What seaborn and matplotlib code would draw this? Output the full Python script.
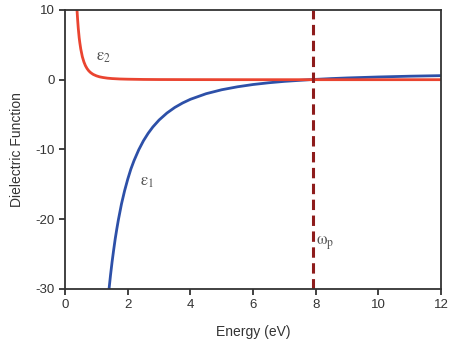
import pandas as pd
import seaborn as sns
import matplotlib.pyplot as plt

# Data
E1 = [1.40, 1.45, 1.5, 1.55, 1.6, 1.65, 1.7, 1.8, 1.9, 2.0, 2.1, 2.2, 2.35,
      2.5, 2.65, 2.8, 3.0, 3.25, 3.5, 3.75, 4.0, 4.5, 5.0, 5.5, 6.0, 6.5,
      7.0, 7.8, 8.5, 9.0, 10.0, 11.0, 12.0]
EPS1 = [-30.1, -28.0, -26.1, -24.4, -22.8, -21.4, -20.1, -17.8, -15.9, -14.25,
        -12.8, -11.6, -10.05, -8.76, -7.69, -6.78, -5.78, -4.78, -3.98, -3.34,
        -2.81, -2.01, -1.44, -1.02, -0.69, -0.44, -0.24, 0.0, 0.16, 0.25,
        0.39, 0.50, 0.58]
E2 = [0.38, 0.40, 0.42, 0.45, 0.47, 0.50, 0.55, 0.60, 0.65, 0.70, 0.75, 0.80,
      0.85, 0.90, 1.0, 1.1, 1.2, 1.35, 1.5, 1.75, 2.0, 2.5, 3.0, 4.0, 6.0,
      8.0, 10.0, 12.0]
EPS2 = [10.0, 8.6, 7.4, 6.0, 5.3, 4.4, 3.3, 2.55, 2.0, 1.6, 1.3, 1.07, 0.9,
        0.75, 0.55, 0.41, 0.32, 0.22, 0.16, 0.10, 0.07, 0.035, 0.02, 0.01,
        0.0, 0.0, 0.0, 0.0]
OMEGA_P = 7.92

d1 = pd.DataFrame({'Energy': E1, 'Value': EPS1})
d2 = pd.DataFrame({'Energy': E2, 'Value': EPS2})

sns.set_style('ticks')
plt.rcParams['font.family'] = ['Liberation Sans', 'DejaVu Sans']
plt.rcParams['mathtext.fontset'] = 'stix'
plt.rcParams['axes.unicode_minus'] = False

fig = plt.figure(figsize=(4.52, 3.42), dpi=100)
ax = fig.add_axes([0.144, 0.155, 0.832, 0.816])

sns.lineplot(x='Energy', y='Value', data=d1, color='#2d50a8', lw=2.0, ax=ax)
sns.lineplot(x='Energy', y='Value', data=d2, color='#ea4430', lw=2.0, ax=ax)
ax.axvline(OMEGA_P, color='#8e1c1c', lw=2.2, ls=(0, (3.4, 1.8)))

ax.set_xlim(0, 12)
ax.set_ylim(-30, 10)
ax.set_xticks(range(0, 13, 2))
ax.set_yticks(range(-30, 11, 10))

gray = '#333333'
for s in ax.spines.values():
    s.set_color(gray)
    s.set_linewidth(1.3)
ax.tick_params(colors=gray, labelcolor=gray, labelsize=9.5, width=1.3, length=4)

ax.set_xlabel('Energy (eV)', fontsize=10, color=gray, labelpad=10)
ax.set_ylabel('Dielectric Function', fontsize=10, color=gray, labelpad=8)

ax.text(1.0, 3.2, r'$\mathrm{ε_2}$', fontsize=12, color='#555555', va='center')
ax.text(2.4, -14.8, r'$\mathrm{ε_1}$', fontsize=12, color='#555555', va='center')
ax.text(8.0, -23.5, r'$\mathrm{ω_p}$', fontsize=12, color='#555555', va='center')

fig.savefig('out.png', dpi=100)
